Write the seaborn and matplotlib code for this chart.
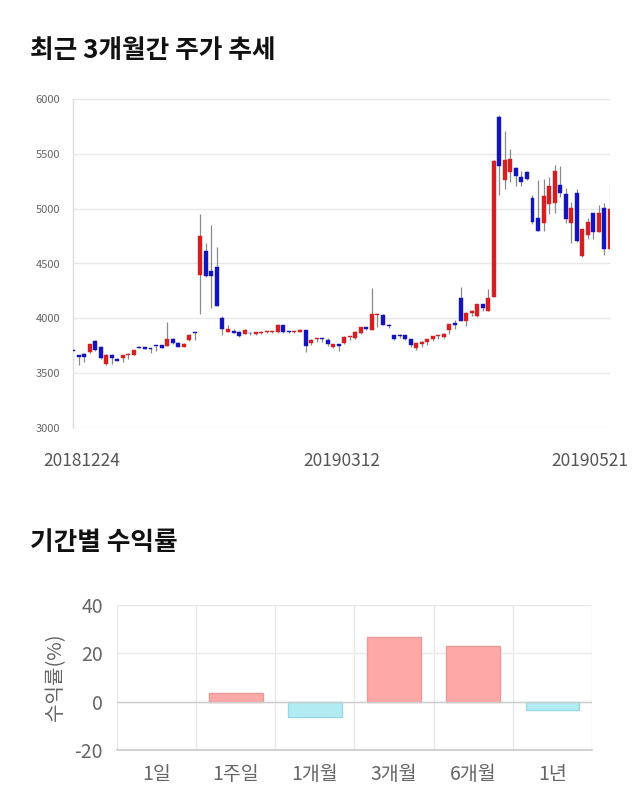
import matplotlib
matplotlib.use("Agg")
import matplotlib.pyplot as plt
import matplotlib.transforms as mtransforms
import numpy as np
import pandas as pd
import seaborn as sns

# ---------------- data ----------------
opens = [3710, 3665, 3675, 3690, 3790, 3735, 3580, 3670, 3630, 3638,
         3662, 3668, 3732, 3735, 3725, 3750, 3755, 3750, 3815, 3778,
         3742, 3802, 3870, 4395, 4615, 4430, 4465, 4005, 3878, 3885,
         3872, 3857, 3868, 3857, 3863, 3872, 3875, 3875, 3935, 3875,
         3872, 3878, 3893, 3775, 3812, 3812, 3802, 3735, 3762, 3772,
         3830, 3823, 3863, 3918, 3893, 4030, 4030, 3932, 3848, 3845,
         3848, 3808, 3726, 3766, 3787, 3808, 3840, 3826, 3893, 3960,
         4188, 3975, 4051, 4021, 4127, 4070, 4197, 5833, 5261, 5337,
         5374, 5292, 5337, 5094, 4918, 4872, 5042, 5048, 5216, 5134,
         4866, 5146, 4568, 4760, 4957, 4790, 5003, 4630]
highs = [3720, 3670, 3680, 3770, 3800, 3745, 3675, 3675, 3635, 3665,
         3680, 3715, 3745, 3740, 3728, 3755, 3760, 3970, 3820, 3785,
         3775, 3855, 3875, 4950, 4690, 4850, 4655, 4020, 3935, 3900,
         3880, 3900, 3872, 3878, 3885, 3880, 3882, 3945, 3940, 3880,
         3880, 3905, 3898, 3810, 3822, 3820, 3825, 3770, 3765, 3840,
         3842, 3885, 3925, 3922, 4275, 4045, 4035, 3950, 3852, 3860,
         3852, 3812, 3775, 3792, 3812, 3842, 3850, 3862, 3950, 3985,
         4290, 4060, 4075, 4132, 4135, 4265, 5440, 5855, 5710, 5540,
         5380, 5345, 5345, 5125, 5260, 5275, 5285, 5400, 5385, 5185,
         5065, 5180, 4818, 4918, 4960, 5035, 5055, 5225]
lows = [3700, 3575, 3605, 3680, 3700, 3630, 3575, 3580, 3610, 3598,
        3630, 3665, 3725, 3718, 3685, 3705, 3725, 3745, 3770, 3738,
        3738, 3790, 3800, 4040, 4380, 4090, 4110, 3850, 3875, 3862,
        3830, 3855, 3850, 3845, 3855, 3868, 3870, 3870, 3868, 3865,
        3868, 3875, 3695, 3760, 3780, 3780, 3745, 3725, 3705, 3765,
        3800, 3815, 3855, 3895, 3890, 3920, 3935, 3910, 3805, 3820,
        3800, 3740, 3712, 3735, 3760, 3790, 3815, 3822, 3857, 3905,
        3972, 3930, 4020, 4015, 4070, 4065, 4195, 5125, 5175, 5245,
        5205, 5205, 5260, 4860, 4795, 4800, 4950, 4963, 5110, 4865,
        4690, 4700, 4562, 4720, 4720, 4785, 4578, 4625]
closes = [3705, 3645, 3650, 3765, 3712, 3635, 3670, 3635, 3615, 3662,
          3674, 3711, 3728, 3722, 3718, 3748, 3732, 3815, 3778, 3742,
          3768, 3848, 3868, 4750, 4385, 4385, 4115, 3902, 3902, 3870,
          3842, 3893, 3862, 3872, 3878, 3875, 3878, 3940, 3875, 3872,
          3875, 3892, 3750, 3802, 3818, 3810, 3765, 3762, 3750, 3826,
          3838, 3878, 3918, 3905, 4036, 4035, 3940, 3930, 3808, 3842,
          3808, 3758, 3772, 3787, 3808, 3838, 3845, 3857, 3945, 3940,
          3975, 4045, 4070, 4127, 4097, 4188, 5435, 5390, 5444, 5450,
          5298, 5246, 5267, 4882, 4796, 5115, 5207, 5346, 5140, 4903,
          5009, 4705, 4814, 4875, 4790, 4963, 4630, 4994]
date_ticks = [0, 49, 97]
date_labels = ["20181224", "20190312", "20190521"]

periods = ["1일", "1주일", "1개월", "3개월", "6개월", "1년"]
returns = [0.0, 3.55, -6.55, 26.6, 23.2, -3.55]

# ---------------- style ----------------
sns.set_theme(style="white")
plt.rcParams["font.family"] = ["Noto Sans CJK KR", "DejaVu Sans"]
plt.rcParams["axes.unicode_minus"] = False

UP = "#D42020"
DOWN = "#1414BE"
GRID = "#e8e8e8"
TXT = "#666666"

fig = plt.figure(figsize=(6.4, 8.1), dpi=100)

fig.text(30 / 640, 1 - 50 / 810, "최근 3개월간 주가 추세", fontsize=18.5,
         fontweight="bold", va="center", ha="left", color="#111111")
fig.text(30 / 640, 1 - 543 / 810, "기간별 수익률", fontsize=18.5,
         fontweight="bold", va="center", ha="left", color="#111111")

# ---------------- candlestick ----------------
ax = fig.add_axes([73 / 640, 1 - 428 / 810, (610 - 73) / 640, (428 - 99) / 810])
df = pd.DataFrame({"o": opens, "h": highs, "l": lows, "c": closes})
df["i"] = np.arange(len(df))
df["up"] = df["c"] >= df["o"]
df["bottom"] = df[["o", "c"]].min(axis=1)
df["height"] = (df["c"] - df["o"]).abs().clip(lower=8)
colors = np.where(df["up"], UP, DOWN)

ax.vlines(df["i"], df["l"], df["h"], color="#8a8a8a", linewidth=0.9, zorder=2)
ax.bar(df["i"], df["height"], bottom=df["bottom"], width=0.72,
       color=colors, edgecolor=colors, linewidth=0.3, zorder=3)

ax.set_xlim(0, len(df) - 1)
ax.set_ylim(3000, 6000)
ax.set_yticks(np.arange(3000, 6001, 500))
ax.yaxis.grid(True, color=GRID, linewidth=1)
ax.set_axisbelow(True)
for s in ["top", "right", "bottom"]:
    ax.spines[s].set_visible(False)
ax.spines["left"].set_color("#dddddd")
ax.spines["left"].set_linewidth(1)
ax.tick_params(axis="y", length=0, pad=9, labelsize=8, labelcolor=TXT)
ax.set_xticks(date_ticks)
ax.set_xticklabels(date_labels)
ax.tick_params(axis="x", length=0, pad=17, labelsize=12.5, labelcolor="#555555")
offs = [9, -2, -20]
for lab, dx in zip(ax.get_xticklabels(), offs):
    lab.set_transform(lab.get_transform() +
                      mtransforms.ScaledTranslation(dx / 100, 0, fig.dpi_scale_trans))

# ---------------- returns bars ----------------
ax2 = fig.add_axes([117 / 640, 1 - 750 / 810, (592 - 117) / 640, (750 - 605) / 810])
rdf = pd.DataFrame({"period": periods, "ret": returns})
bar_cols = ["#FFA8A8" if v >= 0 else "#B3EBF2" for v in returns]
edge_cols = ["#E89A9A" if v >= 0 else "#98D8E2" for v in returns]
sns.barplot(data=rdf, x="period", y="ret", hue="period", palette=bar_cols,
            legend=False, width=0.68, ax=ax2, order=periods, hue_order=periods,
            saturation=1)
for p, ec, v in zip(ax2.patches, edge_cols, returns):
    p.set_edgecolor(ec)
    p.set_linewidth(1 if v != 0 else 0)

ax2.set_ylim(-20, 40)
ax2.set_yticks([-20, 0, 20, 40])
ax2.set_xlim(-0.5, len(periods) - 0.5)
ax2.set_xticks(list(np.arange(len(periods)) - 0.5) + [len(periods) - 0.5], minor=True)
ax2.yaxis.grid(True, color=GRID, linewidth=1)
ax2.xaxis.grid(True, which="minor", color=GRID, linewidth=1)
ax2.set_axisbelow(True)
ax2.axhline(0, color="#cccccc", linewidth=1, zorder=1)
for s in ["top", "right", "left"]:
    ax2.spines[s].set_visible(False)
ax2.spines["bottom"].set_color("#cccccc")
ax2.tick_params(axis="x", which="major", length=0, pad=10, labelsize=14, labelcolor=TXT)
ax2.tick_params(axis="x", which="minor", length=9, width=1, color=GRID)
ax2.tick_params(axis="y", length=0, pad=10, labelsize=14, labelcolor=TXT)
ax2.set_xlabel("")
ax2.set_ylabel("수익률(%)", fontsize=14.5, color=TXT, labelpad=6)

fig.savefig("out.png", dpi=100)
